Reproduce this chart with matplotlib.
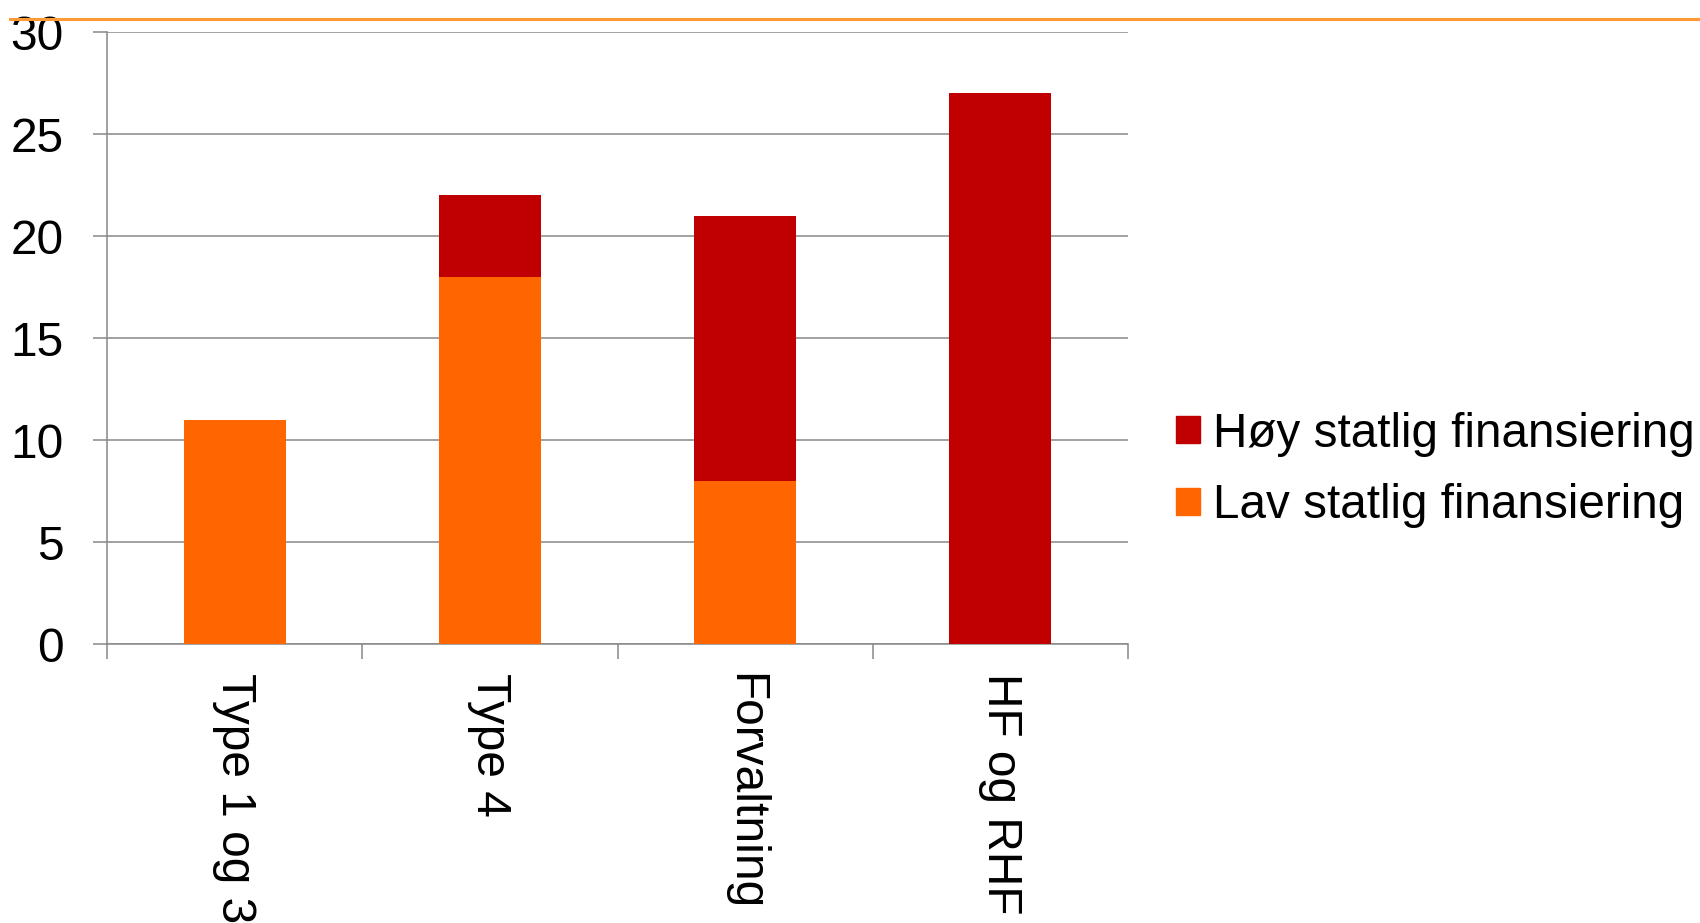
import matplotlib
matplotlib.use('Agg')
from matplotlib import pyplot as plt
from matplotlib.patches import Patch
from matplotlib.lines import Line2D

categories = ['Type 1 og 3', 'Type 4', 'Forvaltning', 'HF og RHF']
lav = [11, 18, 8, 0]
hoy = [0, 4, 13, 27]
y_ticks = [0, 5, 10, 15, 20, 25, 30]

RED = '#C00000'
ORANGE = '#FF6600'
GRID = '#888888'

plt.rcParams['font.family'] = ['Liberation Sans', 'DejaVu Sans']

W, H = 1700, 923
fig = plt.figure(figsize=(W / 100, H / 100), dpi=100)
ax = fig.add_axes([107 / W, (H - 644) / H, (1128 - 107) / W, (644 - 32) / H])

x = list(range(len(categories)))
ax.bar(x, lav, width=0.4, color=ORANGE, zorder=3)
ax.bar(x, hoy, width=0.4, bottom=lav, color=RED, zorder=3)

ax.set_xlim(-0.5, len(categories) - 0.5)
ax.set_ylim(0, 30)
ax.set_yticks(y_ticks)
ax.yaxis.grid(True, color=GRID, lw=1.1, zorder=0)
ax.set_axisbelow(True)

ax.set_xticks(x)
ax.set_xticklabels(categories, rotation=270, fontsize=34.5)
ax.set_xticks([i - 0.5 for i in range(len(categories) + 1)], minor=True)
ax.tick_params(axis='x', which='major', length=0, pad=21)
ax.tick_params(axis='x', which='minor', length=11, width=1.1, color=GRID)
ax.tick_params(axis='y', length=10, width=1.1, color=GRID, labelsize=34.5, pad=21)

for side in ('top', 'right'):
    ax.spines[side].set_visible(False)
for side in ('left', 'bottom'):
    ax.spines[side].set_color(GRID)
    ax.spines[side].set_linewidth(1.1)

handles = [Patch(color=RED), Patch(color=ORANGE)]
labels = ['Høy statlig finansiering', 'Lav statlig finansiering']
fig.legend(handles, labels, loc='center left', bbox_to_anchor=(1176 / W, 1 - 470 / H),
           frameon=False, fontsize=34.3, handlelength=0.5, handleheight=0.5,
           handletextpad=0.28, labelspacing=0.56, borderpad=0, borderaxespad=0)

fig.add_artist(Line2D([10 / W, 1], [1 - 19 / H, 1 - 19 / H], color='#FF9933', lw=2.2))

fig.savefig('out.png', dpi=100)
